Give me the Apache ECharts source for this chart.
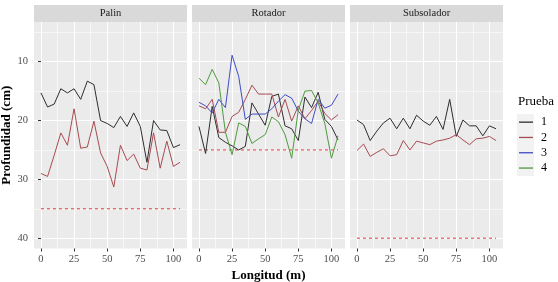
<!DOCTYPE html>
<html>
<head>
<meta charset="utf-8">
<script src="https://cdn.jsdelivr.net/npm/echarts@6/dist/echarts.min.js"></script>
<style>
  html, body { margin: 0; padding: 0; background: #fff; }
  #chart { width: 558px; height: 282px; }
</style>
</head>
<body>
<div id="chart"></div>
<script>
// datos (profundidad en cm cada 5 m)
const longitud = [0, 5, 10, 15, 20, 25, 30, 35, 40, 45, 50, 55, 60, 65, 70, 75, 80, 85, 90, 95, 100, 105];
const paneles = ['Palin', 'Rotador', 'Subsolador'];
const pruebas = ['1', '2', '3', '4'];
const limite = [35, 25, 40];

const palin1 = [15.3, 17.7, 17.2, 14.6, 15.3, 14.6, 16.4, 13.3, 13.9, 20.0, 20.5, 21.2, 19.3, 21.0, 18.7, 21.0, 27.1, 20.0, 21.6, 21.7, 24.6, 24.1];
const palin2 = [29.0, 29.5, 25.9, 22.1, 24.2, 18.0, 24.7, 24.5, 20.1, 25.5, 27.8, 31.3, 24.2, 26.8, 25.7, 28.1, 28.4, 22.1, 28.1, 23.5, 27.8, 27.1];

const rotador1 = [21.0, 25.6, 17.6, 22.9, 23.7, 24.3, 25.0, 24.4, 17.0, 18.9, 20.8, 15.9, 15.5, 20.9, 21.4, 23.4, 16.0, 17.8, 15.2, 19.8, 21.0, 23.3];
const rotador2 = [17.5, 18.0, 16.4, 22.0, 22.0, 19.3, 18.6, 16.4, 14.0, 15.5, 15.5, 15.5, 19.4, 16.4, 20.1, 17.5, 19.7, 18.3, 16.7, 18.8, 19.9, 19.0];
const rotador3 = [16.9, 17.5, 18.7, 16.4, 17.8, 8.9, 12.5, 19.8, 18.9, 18.9, 18.9, 18.0, 16.7, 15.6, 16.2, 18.4, 19.7, 20.5, 16.4, 17.9, 17.4, 15.5];
const rotador4 = [12.8, 13.9, 11.3, 13.6, 22.0, 25.8, 20.4, 21.0, 23.9, 23.1, 22.4, 19.4, 20.2, 22.4, 26.4, 18.2, 15.0, 14.9, 17.0, 20.5, 26.4, 22.6];

const subsolador1 = [19.9, 20.7, 23.4, 21.8, 20.4, 19.6, 21.4, 19.6, 21.4, 19.1, 20.1, 20.8, 19.3, 21.5, 16.4, 22.7, 19.9, 20.9, 20.9, 22.6, 20.9, 21.4];
const subsolador2 = [25.1, 24.0, 26.1, 25.4, 24.8, 26.0, 25.8, 23.4, 25.0, 23.5, 23.8, 24.1, 23.5, 23.3, 23.0, 22.4, 23.3, 24.1, 23.1, 23.0, 22.7, 23.4];

const datosPanel = [
  [palin1, palin2, null, null],
  [rotador1, rotador2, rotador3, rotador4],
  [subsolador1, subsolador2, null, null]
];

const ticksX = [0, 25, 50, 75, 100];
const ticksXmenor = [12.5, 37.5, 62.5, 87.5];
const ticksY = [10, 20, 30, 40];
const ticksYmenor = [5, 15, 25, 35];

const colores = ['#2e2e2e', '#a84b52', '#3f4cc4', '#4f9a3f'];
const fuente = 'Liberation Serif';

// geometria de los paneles
const izq = [34, 192, 350];
const ancho = 153;
const arriba = 22;
const alto = 226.5;

const grids = [], xAxes = [], yAxes = [], series = [], graphics = [];

paneles.forEach(function (nombre, p) {
  grids.push({
    left: izq[p], top: arriba, width: ancho, height: alto,
    show: true, backgroundColor: '#EBEBEB', borderWidth: 0,
    outerBoundsMode: 'none'
  });

  // eje x principal
  xAxes.push({
    type: 'value', gridIndex: p, min: -5.25, max: 110.25,
    name: p === 1 ? 'Longitud (m)' : '',
    nameLocation: 'middle', nameGap: 17,
    nameTextStyle: { fontFamily: fuente, fontSize: 13, fontWeight: 'bold', color: '#000' },
    axisLine: { show: false },
    axisTick: { show: true, length: 3, customValues: ticksX, lineStyle: { color: '#333', width: 1 } },
    axisLabel: { customValues: ticksX, margin: 5, fontFamily: fuente, fontSize: 10.5, color: '#4D4D4D' },
    splitLine: { show: true, customValues: ticksX, lineStyle: { color: '#fff', width: 1.1 } }
  });

  // eje y principal
  yAxes.push({
    type: 'value', gridIndex: p, inverse: true, min: 3.25, max: 41.75,
    name: p === 0 ? 'Profundidad (cm)' : '',
    nameLocation: 'middle', nameGap: 16, nameRotate: 90,
    nameTextStyle: { fontFamily: fuente, fontSize: 13, fontWeight: 'bold', color: '#000' },
    axisLine: { show: false },
    axisTick: { show: p === 0, length: 3, customValues: ticksY, lineStyle: { color: '#333', width: 1 } },
    axisLabel: { show: p === 0, customValues: ticksY, margin: 6, fontFamily: fuente, fontSize: 10.5, color: '#4D4D4D' },
    splitLine: { show: true, customValues: ticksY, lineStyle: { color: '#fff', width: 1.1 } }
  });

  // tira con el nombre del panel
  graphics.push({
    type: 'rect', left: izq[p], top: 5, shape: { width: ancho, height: 17 },
    style: { fill: '#D9D9D9' }, silent: true
  });
  graphics.push({
    type: 'text', x: izq[p] + ancho / 2, y: 13.5,
    style: { text: nombre, fill: '#1A1A1A', font: '10.5px "' + fuente + '"', align: 'center', verticalAlign: 'middle' },
    silent: true
  });
});

// ejes secundarios para las lineas de cuadricula menores
paneles.forEach(function (nombre, p) {
  xAxes.push({
    type: 'value', gridIndex: p, min: -5.25, max: 110.25,
    axisLine: { show: false }, axisLabel: { show: false },
    axisTick: { show: false, customValues: ticksXmenor },
    splitLine: { show: true, customValues: ticksXmenor, lineStyle: { color: '#fff', width: 0.55 } }
  });
  yAxes.push({
    type: 'value', gridIndex: p, inverse: true, min: 3.25, max: 41.75,
    axisLine: { show: false }, axisLabel: { show: false },
    axisTick: { show: false, customValues: ticksYmenor },
    splitLine: { show: true, customValues: ticksYmenor, lineStyle: { color: '#fff', width: 0.55 } }
  });
});

// series
paneles.forEach(function (nombre, p) {
  series.push({
    type: 'line', name: 'limite', xAxisIndex: p, yAxisIndex: p,
    data: [[longitud[0], limite[p]], [longitud[longitud.length - 1], limite[p]]],
    symbol: 'none', silent: true,
    lineStyle: { color: '#e03a3a', width: 1, type: [3, 3] }
  });
  datosPanel[p].forEach(function (vals, k) {
    if (!vals) return;
    series.push({
      type: 'line', name: pruebas[k], xAxisIndex: p, yAxisIndex: p,
      data: longitud.map(function (x, i) { return [x, vals[i]]; }),
      symbol: 'none', color: colores[k],
      lineStyle: { color: colores[k], width: 1 }
    });
  });
});

// fondo de las claves de la leyenda
graphics.push({
  type: 'rect', left: 517, top: 114, shape: { width: 17, height: 62 },
  style: { fill: '#F2F2F2' }, silent: true
});
graphics.push({
  type: 'text', x: 518, y: 102,
  style: { text: 'Prueba', fill: '#000', font: '13px "' + fuente + '"', align: 'left', verticalAlign: 'middle' },
  silent: true
});

const chart = echarts.init(document.getElementById('chart'), null, { renderer: 'canvas' });
chart.setOption({
  animation: false,
  backgroundColor: '#fff',
  grid: grids,
  xAxis: xAxes,
  yAxis: yAxes,
  legend: {
    data: pruebas,
    orient: 'vertical',
    left: 519, top: 114.5,
    padding: 0,
    itemWidth: 14, itemHeight: 1.3, itemGap: 0,
    icon: 'rect',
    selectedMode: false,
    textStyle: { fontFamily: fuente, fontSize: 12, color: '#000', lineHeight: 15.3, padding: [0, 0, 0, 3] }
  },
  graphic: graphics,
  series: series
});
</script>
</body>
</html>
